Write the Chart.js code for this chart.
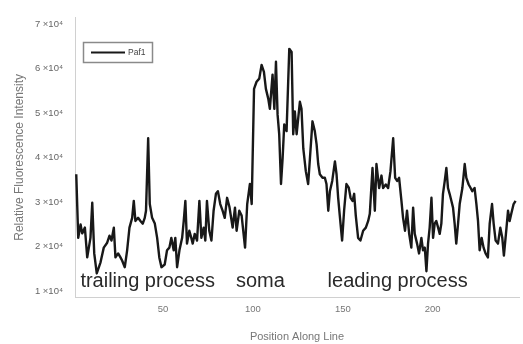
<!DOCTYPE html>
<html>
<head>
<meta charset="utf-8">
<script src="https://cdn.jsdelivr.net/npm/chart.js@4"></script>
<style>
  body { margin: 0; background: #fff; }
</style>
</head>
<body>
<canvas id="profileChart" width="523" height="344"></canvas>
<script>
// position along the line (x) and relative fluorescence intensity (y)
const positions = [
    1.7, 2.8, 4.1, 5.0, 6.5, 7.8, 9.6, 10.6, 11.7, 13.1, 15.2, 17.0, 18.9, 20.2, 21.3, 22.6,
    23.5, 25.0, 26.3, 27.2, 28.7, 30.0, 31.3, 32.8, 33.7, 34.6, 36.1, 37.4, 38.7, 39.8, 40.5,
    41.7, 42.6, 43.9, 45.4, 46.7, 47.9, 49.1, 50.9, 52.2, 53.5, 54.6, 55.9, 56.8, 57.8, 59.1,
    60.6, 61.5, 62.4, 63.3, 64.6, 65.7, 66.5, 67.6, 68.9, 70.2, 71.3, 72.6, 73.5, 74.4, 75.7,
    76.9, 78.1, 79.4, 80.5, 81.8, 83.1, 84.3, 85.6, 86.9,
    88.7, 90.0, 90.9, 92.4, 93.7, 95.6, 96.8, 98.3, 99.3, 100.6, 102.0, 103.5, 104.8, 106.1,
    107.2, 108.5, 109.4, 110.9, 111.9, 112.8, 113.7, 114.6, 115.6, 116.5, 117.4, 118.7, 120.2,
    121.5, 122.4, 123.3, 124.3, 125.2, 126.1, 127.0, 128.0, 129.4, 130.7, 131.7, 133.1, 134.4,
    135.4, 136.3, 137.2, 138.7, 140.0, 140.9, 141.9, 142.8, 144.1, 145.6, 146.5, 147.4, 148.3,
    149.6, 150.7, 152.0, 153.3, 154.3, 155.4, 156.3, 157.2, 158.5, 159.8, 161.3, 162.8, 164.1,
    165.0, 166.5, 167.8, 168.7, 170.2, 171.5, 172.4, 173.9, 175.2, 176.5, 178.0, 179.1, 180.2,
    181.3, 182.6, 183.5, 184.6, 185.7, 186.9, 188.1, 189.1, 190.0, 191.3, 192.4, 193.7, 194.6,
    195.6, 196.5, 197.4, 198.3, 199.3, 200.2, 201.1, 202.0, 203.0, 203.9, 204.8, 205.7, 206.7,
    207.6, 208.5, 209.4, 210.4, 211.3, 212.2, 213.1, 214.1, 215.0, 216.5, 217.8, 218.7, 220.0,
    221.1, 222.0, 223.3, 224.3, 225.2, 226.1, 227.2, 228.3, 229.4, 230.7, 231.7, 233.0, 233.9,
    235.0, 236.3, 237.6, 238.7, 239.6, 240.9, 241.9, 242.8, 243.7, 245.0, 246.1
];
const intensity = [
    36300, 22000, 25000, 23000, 24300, 17600, 22000, 29900, 18500, 14000, 16500, 19800, 20900, 22500, 21400, 24300,
    17600, 18500, 17600, 16900, 15400, 19200, 24300, 26500, 30300, 25800, 26500, 25800, 25200, 26500, 28100,
    44400, 29600, 26500, 25200, 22000, 17600, 15400, 16000, 19200, 19800, 22000, 19200, 22000, 15400, 19200,
    22000, 25800, 30300, 20700, 23600, 22000, 20700, 22900, 21400, 30300, 22000, 24300, 21400, 30300, 23600,
    21400, 28100, 31900, 32500, 29600, 28100, 26500, 31000, 29000,
    24300, 28800, 23600, 28100, 27000, 19800, 29600, 34100, 29600, 55500, 57100, 57800, 60900, 59300,
    55500, 53300, 51000, 58700, 51000, 61600, 49700, 45300, 34100, 39900, 47500, 46000, 64500,
    63800, 45300, 50400, 45300, 49000, 52600, 51000, 42100, 37000, 34100, 39900, 48200, 46000,
    43000, 38600, 36300, 35500, 35500, 34100, 28100, 32500, 34800, 39200, 36300, 31000, 27000,
    21400, 28100, 34100, 33300, 31000, 30300, 31900, 27000, 22000, 21400, 23600, 24300, 25800,
    27400, 37700, 28100, 38600, 33200, 36000, 33200, 34000, 33200, 37000, 44400, 35500, 34800,
    35500, 30300, 26500, 23600, 28100, 22900, 19800, 28800, 22900, 20700, 18500, 22000, 19200,
    19800, 14500, 20700, 24300, 31000, 22000, 25200, 25800, 24300, 22900, 25200, 31900, 34800,
    37700, 33200, 31900, 30300, 28800, 25200, 20700, 25200, 29600, 33200, 38600, 35500, 34000,
    33200, 32500, 33200, 29600, 25800, 19200, 22000, 19800, 18500, 17600, 25200, 29600, 25200,
    21400, 20700, 24300, 22000, 18000, 23600, 28100, 25800, 27400, 29600, 30300
];

const seriesName = 'Paf1';
const xTicks = [50, 100, 150, 200];
const yTicks = [10000, 20000, 30000, 40000, 50000, 60000, 70000];

// region names written inside the plot, anchored at a position along the line
const regionLabels = ['trailing process', 'soma', 'leading process'];
const regionStarts = [4, 90.5, 141.5];

const points = positions.map((p, i) => ({ x: p, y: intensity[i] }));

const supers = { '0': '⁰', '1': '¹', '2': '²', '3': '³', '4': '⁴', '5': '⁵', '6': '⁶', '7': '⁷', '8': '⁸', '9': '⁹' };
function sciLabel(v) {
    const exp = Math.floor(Math.log10(v));
    const mant = Math.round(v / Math.pow(10, exp));
    return mant + ' ×10' + String(exp).split('').map(c => supers[c]).join('');
}

const FONT = '"Liberation Sans", Arial, sans-serif';

const overlayPlugin = {
    id: 'overlay',
    afterDatasetsDraw(chart) {
        const ctx = chart.ctx;
        const xs = chart.scales.x;
        const ys = chart.scales.y;

        // region labels
        ctx.save();
        ctx.fillStyle = '#2a2a2a';
        ctx.font = '20px ' + FONT;
        ctx.textBaseline = 'alphabetic';
        ctx.textAlign = 'left';
        regionLabels.forEach((txt, i) => {
            ctx.fillText(txt, xs.getPixelForValue(regionStarts[i]), ys.getPixelForValue(10900));
        });
        ctx.restore();

        // legend box in upper left of plot
        const ds = chart.data.datasets[0];
        ctx.save();
        ctx.strokeStyle = '#8a8a8a';
        ctx.lineWidth = 1.5;
        ctx.strokeRect(83.5, 42.5, 69, 20);
        ctx.strokeStyle = ds.borderColor;
        ctx.lineWidth = 2;
        ctx.beginPath();
        ctx.moveTo(91, 52.5);
        ctx.lineTo(125, 52.5);
        ctx.stroke();
        ctx.fillStyle = '#444';
        ctx.font = '8.5px ' + FONT;
        ctx.textBaseline = 'middle';
        ctx.fillText(ds.label, 128, 53);
        ctx.restore();
    }
};

const ctx = document.getElementById('profileChart').getContext('2d');
new Chart(ctx, {
    type: 'line',
    data: {
        datasets: [{
            label: seriesName,
            data: points,
            borderColor: '#181818',
            borderWidth: 2.4,
            pointRadius: 0,
            tension: 0,
            borderJoinStyle: 'round'
        }]
    },
    options: {
        responsive: false,
        animation: false,
        layout: { padding: { left: 0, right: 4, top: 15, bottom: 0 } },
        scales: {
            x: {
                type: 'linear',
                min: 1,
                max: 248,
                afterBuildTicks: scale => { scale.ticks = xTicks.map(v => ({ value: v })); },
                afterFit: scale => { scale.height = 47; },
                grid: { display: false, drawTicks: false },
                border: { display: true, color: '#d0d0d0', width: 1, dash: [2, 2] },
                ticks: {
                    padding: 7,
                    color: '#777',
                    font: { size: 9.5, family: FONT }
                },
                title: {
                    display: true,
                    text: 'Position Along Line',
                    color: '#777',
                    font: { size: 11, family: FONT },
                    padding: { top: 0, bottom: 0 }
                }
            },
            y: {
                min: 8700,
                max: 71500,
                afterBuildTicks: scale => { scale.ticks = yTicks.map(v => ({ value: v })); },
                afterFit: scale => { scale.width = 75; },
                grid: { display: false, drawTicks: false },
                border: { display: true, color: '#d0d0d0', width: 1, dash: [2, 2] },
                ticks: {
                    padding: 12,
                    color: '#666',
                    font: { size: 9.5, family: FONT },
                    callback: v => sciLabel(v)
                },
                title: {
                    display: true,
                    text: 'Relative Fluorescence Intensity',
                    color: '#777',
                    font: { size: 12, family: FONT },
                    padding: { top: 12, bottom: 0 }
                }
            }
        },
        plugins: {
            legend: { display: false },
            tooltip: { enabled: false }
        }
    },
    plugins: [overlayPlugin]
});
</script>
</body>
</html>
